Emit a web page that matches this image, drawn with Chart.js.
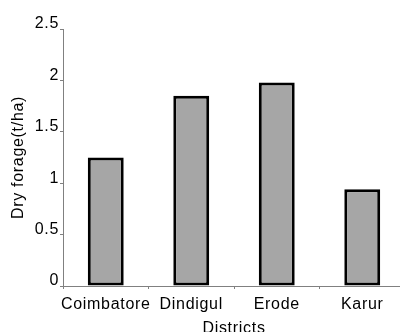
<!DOCTYPE html>
<html>
<head>
<meta charset="utf-8">
<script src="https://cdn.jsdelivr.net/npm/chart.js@4/dist/chart.umd.min.js"></script>
<style>
  html, body { margin: 0; padding: 0; background: #fff; overflow: hidden; }
</style>
</head>
<body>
<canvas id="forageChart" width="405" height="332"></canvas>
<script>
// data
const districts = ['Coimbatore', 'Dindigul', 'Erode', 'Karur'];
const dryForage = [1.25, 1.85, 1.98, 0.94];
const yTicks = [0, 0.5, 1, 1.5, 2, 2.5];

Chart.defaults.font.family = '"Liberation Sans", Arial, sans-serif';
Chart.defaults.font.size = 16;
Chart.defaults.color = '#000';

// the original labels are drawn a little spread out
const spacing = {
  id: 'spacing',
  beforeDraw(chart) {
    chart.ctx.letterSpacing = '0.7px';
  }
};

const ctx = document.getElementById('forageChart');
new Chart(ctx, {
  type: 'bar',
  data: {
    labels: districts,
    datasets: [{
      label: 'Dry forage',
      data: dryForage,
      backgroundColor: '#a6a6a6',
      borderColor: '#000',
      borderWidth: 3,
      borderSkipped: false,
      barPercentage: 0.42,
      categoryPercentage: 1
    }]
  },
  options: {
    responsive: false,
    animation: false,
    layout: { padding: { top: 29, left: 0, right: 0, bottom: 0 } },
    plugins: {
      legend: { display: false },
      tooltip: { enabled: false }
    },
    scales: {
      x: {
        grid: { drawOnChartArea: false, tickLength: 3, color: '#808080', offset: true },
        border: { color: '#808080', width: 1 },
        ticks: { padding: 6, maxRotation: 0, minRotation: 0, autoSkip: false },
        title: { display: true, text: 'Districts', padding: { top: 10, bottom: -6 } },
        afterFit: (axis) => { axis.height = 46; }
      },
      y: {
        min: 0,
        max: 2.5,
        afterBuildTicks: (axis) => { axis.ticks = yTicks.map(v => ({ value: v })); },
        grid: { drawOnChartArea: false, tickLength: 3, color: '#808080' },
        border: { color: '#808080', width: 1 },
        ticks: { padding: 1, labelOffset: -5, callback: (v) => String(v) },
        title: { display: true, text: 'Dry forage(t/ha)', padding: { top: 9, bottom: 0 } },
        afterFit: (axis) => { axis.width = 63; }
      }
    }
  },
  plugins: [spacing]
});
</script>
</body>
</html>
